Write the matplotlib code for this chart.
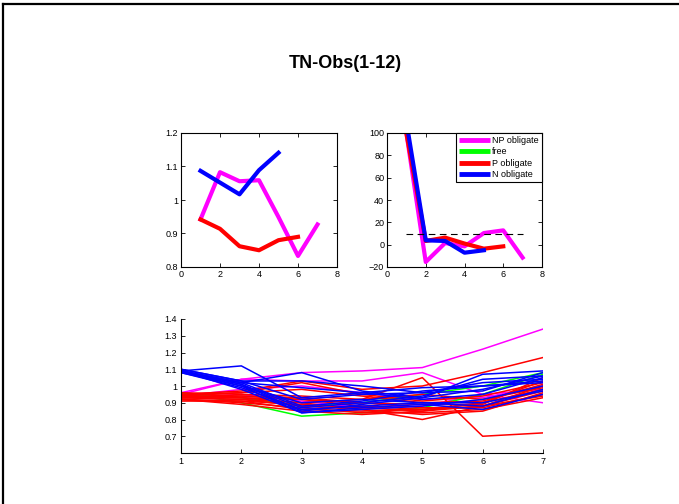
import matplotlib
matplotlib.use('Agg')
import matplotlib.pyplot as plt
from matplotlib.lines import Line2D
import numpy as np

plt.rcParams['font.family'] = ['Liberation Sans', 'DejaVu Sans']

# --- top left: mean ratios per group
tl_np = [0.942, 1.083, 1.056, 1.059, 0.949, 0.833, 0.927]
tl_free = []
tl_p = [0.942, 0.914, 0.862, 0.850, 0.880, 0.890]
tl_n = [1.087, 1.052, 1.017, 1.089, 1.141]

# --- top right: percent change per group
tr_np = [100, -15.5, 1.5, -1.5, 10.4, 12.8, -11.6]
tr_free = []
tr_p = [100, 3.3, 6.3, 1.0, -3.6, -1.5]
tr_n = [110, 3.9, 3.3, -7.2, -5.0]
threshold = 10

# --- bottom: individual series (x = 1..7)
np_lines = [
    [0.95, 1.04, 1.08, 1.09, 1.11, 1.22, 1.34],
    [0.96, 1.04, 1.03, 1.03, 1.08, 0.95, 0.90],
    [0.94, 0.98, 1.00, 0.96, 0.92, 0.93, 1.00],
    [0.93, 0.95, 0.91, 0.87, 0.88, 0.95, 0.98],
]
free_lines = [
    [0.96, 0.90, 0.82, 0.84, 0.87, 0.95, 1.07],
    [0.95, 0.93, 0.88, 0.90, 0.95, 1.00, 1.08],
]
p_lines = [
    [0.95, 0.97, 1.03, 0.98, 1.00, 1.08, 1.17],
    [0.94, 0.93, 0.90, 0.92, 1.05, 0.70, 0.72],
    [0.93, 0.92, 0.88, 0.86, 0.80, 0.88, 0.97],
    [0.92, 0.89, 0.85, 0.83, 0.85, 0.88, 1.00],
    [0.95, 0.94, 0.92, 0.88, 0.86, 0.90, 0.98],
    [0.93, 0.94, 0.93, 0.90, 0.87, 0.87, 0.95],
    [0.92, 0.90, 0.87, 0.84, 0.84, 0.86, 0.93],
    [0.94, 0.96, 1.02, 0.95, 0.91, 0.94, 1.02],
    [0.91, 0.91, 0.89, 0.87, 0.85, 0.90, 1.03],
    [0.96, 0.95, 0.94, 0.92, 0.95, 0.92, 0.99],
    [0.93, 0.92, 0.90, 0.86, 0.83, 0.85, 0.96],
    [0.94, 0.93, 0.92, 0.90, 0.89, 0.89, 1.05],
    [0.92, 0.91, 0.86, 0.85, 0.86, 0.88, 0.94],
    [0.95, 0.96, 0.98, 0.94, 0.90, 0.91, 1.01],
]
n_lines = [
    [1.09, 1.12, 0.93, 0.96, 0.92, 0.95, 1.05],
    [1.09, 1.02, 1.08, 0.97, 0.93, 1.07, 1.09],
    [1.10, 1.03, 1.03, 1.00, 0.96, 1.02, 1.04],
    [1.09, 1.00, 0.84, 0.86, 0.88, 0.92, 1.00],
    [1.09, 1.01, 0.85, 0.89, 0.93, 0.98, 1.06],
    [1.08, 0.99, 0.86, 0.88, 0.90, 0.90, 0.97],
    [1.09, 1.02, 0.99, 0.96, 0.99, 1.00, 1.02],
    [1.10, 1.03, 0.92, 0.95, 0.96, 0.97, 1.08],
    [1.09, 1.01, 0.87, 0.90, 0.94, 1.04, 1.06],
    [1.08, 1.00, 0.90, 0.92, 0.90, 0.88, 0.98],
    [1.09, 1.02, 0.88, 0.91, 0.97, 1.00, 1.03],
    [1.09, 0.98, 0.84, 0.87, 0.89, 0.86, 0.95],
]

labels = ['NP obligate', 'free', 'P obligate', 'N obligate']
colors = ['#ff00ff', '#00ff00', '#ff0000', '#0000ff']

W, H = 679, 504
fig = plt.figure(figsize=(W / 100, H / 100), dpi=100)


def box(l, t, r, b):
    return [l / W, (H - b) / H, (r - l) / W, (b - t) / H]


def style(ax):
    ax.tick_params(direction='in', labelsize=6.5, length=3, width=0.6,
                   pad=2, top=True, right=True)
    for s in ax.spines.values():
        s.set_linewidth(0.8)


ax1 = fig.add_axes(box(181, 133, 337, 267))
for ys, c in zip([tl_np, tl_free, tl_p, tl_n], colors):
    ax1.plot(np.arange(1, len(ys) + 1), ys, color=c, lw=3)
ax1.set_xlim(0, 8)
ax1.set_ylim(0.8, 1.2)
ax1.set_xticks([0, 2, 4, 6, 8])
ax1.set_yticks([0.8, 0.9, 1.0, 1.1, 1.2])
ax1.set_yticklabels(['0.8', '0.9', '1', '1.1', '1.2'])
style(ax1)

ax2 = fig.add_axes(box(387, 133, 542, 267))
for ys, c, lab in zip([tr_np, tr_free, tr_p, tr_n], colors, labels):
    ax2.plot(np.arange(1, len(ys) + 1), ys, color=c, lw=3, label=lab)
ax2.plot([1, 7], [threshold, threshold], 'k--', lw=0.8, dashes=(6, 4))
ax2.set_xlim(0, 8)
ax2.set_ylim(-20, 100)
ax2.set_xticks([0, 2, 4, 6, 8])
ax2.set_yticks(range(-20, 101, 20))
style(ax2)
handles = [Line2D([], [], color=c, lw=3.5, solid_capstyle='butt')
           for c in colors]
leg = ax2.legend(handles, labels, loc='upper right', fontsize=6.5,
                 handlelength=3.4, handletextpad=0.25, labelspacing=0.25,
                 borderpad=0.35, borderaxespad=0.0, fancybox=False,
                 framealpha=1)
leg.get_frame().set_edgecolor('black')
leg.get_frame().set_linewidth(0.8)

ax3 = fig.add_axes(box(181, 319, 543, 453))
x = np.arange(1, 8)
for group, c in zip([np_lines, free_lines, p_lines, n_lines], colors):
    for ys in group:
        ax3.plot(x, ys, color=c, lw=1.1)
ax3.set_xlim(1, 7)
ax3.set_ylim(0.6, 1.4)
ax3.set_xticks(range(1, 8))
ax3.set_yticks([0.7, 0.8, 0.9, 1.0, 1.1, 1.2, 1.3, 1.4])
ax3.set_yticklabels(['0.7', '0.8', '0.9', '1', '1.1', '1.2', '1.3', '1.4'])
ax3.tick_params(direction='in', labelsize=6.5, length=3, width=0.6, pad=3)
ax3.spines['top'].set_visible(False)
ax3.spines['right'].set_visible(False)
for s in ['left', 'bottom']:
    ax3.spines[s].set_linewidth(0.8)

fig.text(345 / W, 1 - 64 / H, 'TN-Obs(1-12)', ha='center', va='center',
         fontsize=13, fontweight='bold')

# partial frame around the figure
fig.add_artist(Line2D([2.5 / W, 1], [1 - 4 / H, 1 - 4 / H], color='black',
                      lw=1.6, transform=fig.transFigure))
fig.add_artist(Line2D([2.5 / W, 2.5 / W], [0, 1 - 4 / H], color='black',
                      lw=1.6, transform=fig.transFigure))

fig.savefig('out.png', dpi=100, facecolor='white')
